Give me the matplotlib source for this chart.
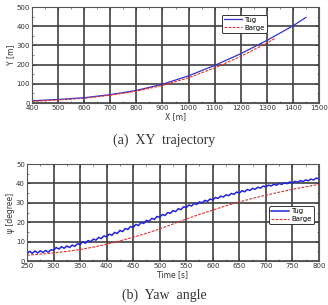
import matplotlib
matplotlib.use("Agg")
import matplotlib.pyplot as plt
from matplotlib.ticker import MultipleLocator

# ---- data: XY trajectory ----
tug_x = [400, 500, 600, 700, 800, 900, 1000, 1100, 1200, 1300, 1400, 1450]
tug_y = [12, 19, 28, 44, 66, 98, 142, 196, 257, 326, 402, 446]
barge_x = [400, 500, 600, 700, 800, 900, 1000, 1100, 1200, 1300, 1330]
barge_y = [9, 16, 25, 41, 62, 92, 132, 183, 243, 312, 336]

# ---- data: yaw angle ----
tug_t = list(range(250, 801, 5))
tug_psi = [3.8, 5.0, 4.0, 5.2, 4.2, 5.3, 4.4, 5.5, 4.6, 5.8,
           5.6, 7.0, 6.2, 7.4, 6.6, 7.8, 7.0, 8.2, 7.6, 8.9,
           8.6, 10.0, 9.2, 10.6, 10.0, 11.3, 10.8, 12.2, 11.6, 13.0,
           12.5, 13.9, 13.3, 14.8, 14.2, 15.8, 15.2, 16.8, 16.3, 17.8,
           17.3, 18.9, 18.3, 19.9, 19.4, 21.0, 20.5, 22.0, 21.5, 23.0,
           22.6, 24.0, 23.5, 25.0, 24.6, 26.0, 25.5, 27.0, 26.5, 28.0,
           27.6, 28.9, 28.4, 29.7, 29.2, 30.5, 30.0, 31.3, 30.8, 32.0,
           31.5, 32.8, 32.3, 33.5, 33.0, 34.2, 33.7, 34.9, 34.4, 35.6,
           35.0, 36.3, 35.7, 36.9, 36.4, 37.5, 37.0, 38.1, 37.6, 38.7,
           38.2, 39.2, 38.7, 39.6, 39.1, 40.0, 39.5, 40.4, 39.9, 40.8,
           40.3, 41.1, 40.6, 41.5, 41.0, 41.8, 41.4, 42.3, 41.8, 42.8, 42.4]
barge_t = [250, 275, 300, 325, 350, 375, 400, 425, 450, 475, 500, 525,
           550, 575, 600, 625, 650, 675, 700, 725, 750, 775, 800]
barge_psi = [3.0, 3.6, 4.2, 5.0, 5.9, 7.2, 8.7, 10.4, 12.3, 14.3, 16.6, 19.1,
             21.7, 24.1, 26.3, 28.5, 30.5, 32.3, 34.0, 35.5, 37.0, 38.3, 39.5]

captions = ["(a)  XY  trajectory", "(b)  Yaw  angle"]

fig = plt.figure(figsize=(3.28, 3.05), dpi=100)
ax1 = fig.add_axes([0.0976, 0.662, 0.875, 0.315])
ax2 = fig.add_axes([0.0823, 0.144, 0.890, 0.318])

grid_c = "#404040"
tick_fs = 5
lab_fs = 5.5


def style(ax):
    ax.grid(True, color=grid_c, linewidth=1.2)
    ax.set_axisbelow(True)
    for s in ax.spines.values():
        s.set_color("#555555")
        s.set_linewidth(0.8)
    ax.tick_params(which="major", direction="in", length=2.5, width=0.6,
                   labelsize=tick_fs, colors="#333333", pad=1.5,
                   top=True, right=True)
    ax.tick_params(which="minor", direction="in", length=1.5, width=0.5,
                   top=True, right=True, colors="#555555")


ax1.plot(tug_x, tug_y, color="#3333cc", lw=0.9, label="Tug")
ax1.plot(barge_x, barge_y, color="#e03030", lw=0.8, ls=(0, (2.5, 1.2)), label="Barge")
ax1.set_xlim(400, 1500)
ax1.set_ylim(0, 500)
ax1.xaxis.set_major_locator(MultipleLocator(100))
ax1.yaxis.set_major_locator(MultipleLocator(100))
ax1.xaxis.set_minor_locator(MultipleLocator(50))
ax1.yaxis.set_minor_locator(MultipleLocator(50))
style(ax1)
ax1.set_xlabel("X [m]", fontsize=lab_fs, labelpad=0.5, color="#333333")
ax1.set_ylabel("Y [m]", fontsize=lab_fs, labelpad=1, color="#333333")
leg1 = ax1.legend(loc="upper right", bbox_to_anchor=(0.83, 0.955), fontsize=5,
                  handlelength=2.6, handletextpad=0.3, borderpad=0.3,
                  labelspacing=0.25, fancybox=True, framealpha=1,
                  edgecolor="#333333")
leg1.get_frame().set_linewidth(0.7)

ax2.plot(tug_t, tug_psi, color="#2222dd", lw=1.1, label="Tug")
ax2.plot(barge_t, barge_psi, color="#e03030", lw=0.8, ls=(0, (2.5, 1.2)), label="Barge")
ax2.set_xlim(250, 800)
ax2.set_ylim(0, 50)
ax2.xaxis.set_major_locator(MultipleLocator(50))
ax2.yaxis.set_major_locator(MultipleLocator(10))
ax2.xaxis.set_minor_locator(MultipleLocator(25))
ax2.yaxis.set_minor_locator(MultipleLocator(5))
style(ax2)
ax2.set_xlabel("Time [s]", fontsize=lab_fs, labelpad=0.5, color="#333333")
ax2.set_ylabel("ψ [degree]", fontsize=lab_fs, labelpad=1, color="#333333")
leg2 = ax2.legend(loc="upper right", bbox_to_anchor=(0.995, 0.6), fontsize=5,
                  handlelength=2.6, handletextpad=0.3, borderpad=0.3,
                  labelspacing=0.25, fancybox=True, framealpha=1,
                  edgecolor="#333333")
leg2.get_frame().set_linewidth(0.7)

fig.text(0.5, 1 - 140 / 305, captions[0], ha="center", va="center",
         fontsize=10, family="Liberation Serif", color="#333333")
fig.text(0.5, 1 - 295 / 305, captions[1], ha="center", va="center",
         fontsize=10, family="Liberation Serif", color="#333333")

fig.savefig("out.png", dpi=100)
